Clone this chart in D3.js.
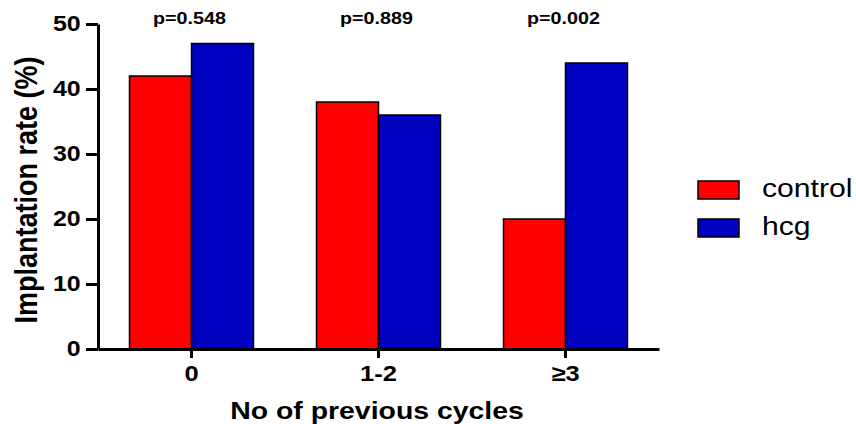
<!DOCTYPE html>
<html>
<head>
<meta charset="utf-8">
<script src="https://cdn.jsdelivr.net/npm/d3@7"></script>
<style>
  body { margin: 0; background: #fff; }
  text { font-family: "Liberation Sans", Arial, sans-serif; }
</style>
</head>
<body>
<div id="chart"></div>
<script>
const categories = ["0", "1-2", "\u22653"];
const seriesNames = ["control", "hcg"];
const control = [42, 38, 20];
const hcg = [47, 36, 44];
const pValues = ["p=0.548", "p=0.889", "p=0.002"];
const yTicks = [0, 10, 20, 30, 40, 50];
const colors = ["#ff0000", "#0000c0"];

// the original figure is a bit wider than tall, so text is stretched sideways
const stretch = 1.16;

const w = 856, h = 424;
const margin = { top: 24, left: 98, bottom: 75, right: 197 };
const width = w - margin.left - margin.right;
const height = h - margin.top - margin.bottom;

const svg = d3.select("#chart").append("svg")
  .attr("width", w)
  .attr("height", h);

const chart = svg.append("g")
  .attr("transform", "translate(" + margin.left + "," + margin.top + ")");

// scales
const x = d3.scaleBand()
  .domain(categories)
  .range([0, width])
  .paddingInner(0.337)
  .paddingOuter(0.1685);

const x1 = d3.scaleBand()
  .domain(seriesNames)
  .range([0, x.bandwidth()]);

const y = d3.scaleLinear()
  .domain([0, 50])
  .range([height, 0]);

const data = categories.map((c, i) => ({ cat: c, values: [control[i], hcg[i]] }));

// bars
const groups = chart.selectAll(".group")
  .data(data)
  .enter().append("g")
  .attr("transform", d => "translate(" + x(d.cat) + ",0)");

groups.selectAll("rect")
  .data(d => d.values.map((v, j) => ({ name: seriesNames[j], v: v, j: j })))
  .enter().append("rect")
  .attr("x", d => x1(d.name))
  .attr("width", x1.bandwidth())
  .attr("y", d => y(d.v))
  .attr("height", d => height - y(d.v))
  .attr("fill", d => colors[d.j])
  .attr("stroke", "#000")
  .attr("stroke-width", 1.5);

// p values
chart.selectAll(".pval")
  .data(pValues)
  .enter().append("text")
  .attr("transform", (d, i) => "translate(" + (x(categories[i]) + x.bandwidth() / 2 - 2) + ",0) scale(" + stretch + ",1)")
  .attr("text-anchor", "middle")
  .style("font-size", "17px")
  .style("font-weight", "bold")
  .text(d => d);

// axes
const yAxis = chart.append("g")
  .call(d3.axisLeft(y).tickValues(yTicks).tickSize(12).tickPadding(3).tickSizeOuter(0));
yAxis.select(".domain").attr("stroke-width", 3);
yAxis.selectAll(".tick line").attr("stroke-width", 3);
yAxis.selectAll("text")
  .attr("transform", "scale(" + stretch + ",1)")
  .style("font-size", "21.5px")
  .style("font-weight", "bold")
  .attr("fill", "#000");

const xAxis = chart.append("g")
  .attr("transform", "translate(0," + height + ")")
  .call(d3.axisBottom(x).tickSize(9).tickPadding(7).tickSizeOuter(0));
xAxis.select(".domain").attr("stroke-width", 3);
xAxis.selectAll(".tick line").attr("stroke-width", 3);
xAxis.selectAll("text")
  .attr("transform", "scale(" + stretch + ",1)")
  .style("font-size", "22px")
  .style("font-weight", "bold")
  .attr("fill", "#000");

// axis titles
svg.append("text")
  .attr("transform", "translate(377,419) scale(" + stretch + ",1)")
  .attr("text-anchor", "middle")
  .style("font-size", "24.5px")
  .style("font-weight", "bold")
  .text("No of previous cycles");

svg.append("text")
  .attr("transform", "translate(37,190) scale(" + stretch + ",1) rotate(-90)")
  .attr("text-anchor", "middle")
  .style("font-size", "27px")
  .style("font-weight", "bold")
  .text("Implantation rate (%)");

// legend
const legend = svg.append("g")
  .attr("transform", "translate(698,181)");

const items = legend.selectAll(".item")
  .data(seriesNames)
  .enter().append("g")
  .attr("transform", (d, i) => "translate(0," + i * 38 + ")");

items.append("rect")
  .attr("width", 41)
  .attr("height", 18)
  .attr("fill", (d, i) => colors[i])
  .attr("stroke", "#000")
  .attr("stroke-width", 1.5);

items.append("text")
  .attr("transform", "translate(64,16) scale(" + stretch + ",1)")
  .style("font-size", "26px")
  .text(d => d);
</script>
</body>
</html>
